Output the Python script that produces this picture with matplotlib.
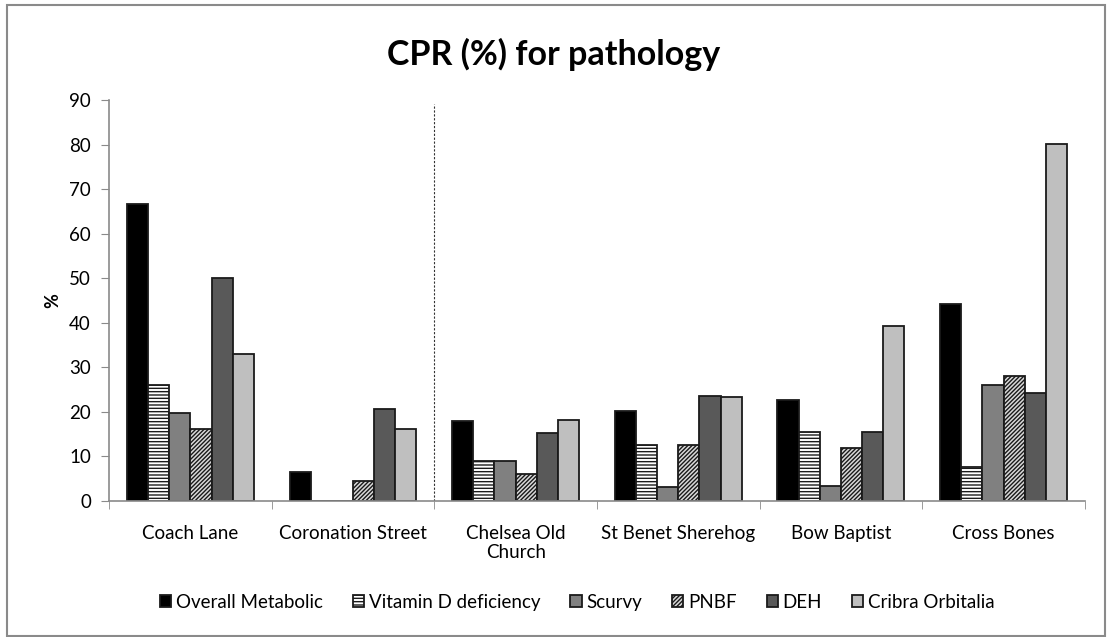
import matplotlib
matplotlib.use("Agg")
import matplotlib.pyplot as plt
import numpy as np
from matplotlib.patches import Rectangle

sites = ["Coach Lane", "Coronation Street", "Chelsea Old\nChurch",
         "St Benet Sherehog", "Bow Baptist", "Cross Bones"]
series_names = ["Overall Metabolic", "Vitamin D deficiency", "Scurvy",
                "PNBF", "DEH", "Cribra Orbitalia"]
overall_metabolic = [66.7, 6.5, 18.0, 20.2, 22.7, 44.2]
vitamin_d = [26.0, 0.0, 9.0, 12.5, 15.4, 7.7]
scurvy = [19.7, 0.0, 9.0, 3.1, 3.4, 26.0]
pnbf = [16.2, 4.5, 6.1, 12.5, 11.9, 28.0]
deh = [50.0, 20.6, 15.2, 23.5, 15.4, 24.2]
cribra = [33.0, 16.2, 18.2, 23.3, 39.2, 80.1]
y_ticks = [0, 10, 20, 30, 40, 50, 60, 70, 80, 90]

plt.rcParams["font.family"] = ["Lato", "DejaVu Sans"]
plt.rcParams["hatch.linewidth"] = 1.0

fig = plt.figure(figsize=(11.07, 6.37), dpi=100)
ax = fig.add_axes([0.0985, 0.2135, 0.8815, 0.6295])

# outer chart frame
fig.patches.append(Rectangle((7 / 1107, 1 / 637), 1098 / 1107, 631 / 637,
                             transform=fig.transFigure, fill=False,
                             edgecolor="#8a8a8a", linewidth=1.5))

styles = [
    dict(color="#000000", hatch=None),
    dict(color="#ffffff", hatch="-----"),
    dict(color="#808080", hatch=None),
    dict(color="#d9d9d9", hatch="////////"),
    dict(color="#595959", hatch=None),
    dict(color="#bfbfbf", hatch=None),
]
values = [overall_metabolic, vitamin_d, scurvy, pnbf, deh, cribra]

x = np.arange(len(sites))
width = 0.13
for i, (vals, st, name) in enumerate(zip(values, styles, series_names)):
    offs = x + (i - 2.5) * width
    ax.bar(offs, vals, width, color=st["color"], edgecolor="#1a1a1a",
           linewidth=1.3, hatch=st["hatch"], label=name)

ax.set_xlim(-0.5, len(sites) - 0.5)
ax.set_ylim(0, 90)
ax.set_yticks(y_ticks)
ax.set_xticks(x)
ax.set_xticklabels(sites, fontsize=13.5, linespacing=1.15)
ax.set_xticks(np.arange(-0.5, len(sites)), minor=True)
ax.tick_params(axis="x", which="major", length=0, pad=17)
ax.tick_params(axis="x", which="minor", length=6, color="#8a8a8a")
ax.tick_params(axis="y", labelsize=13.5, length=6, color="#8a8a8a", pad=7)

for side in ["top", "right"]:
    ax.spines[side].set_visible(False)
for side in ["left", "bottom"]:
    ax.spines[side].set_color("#8a8a8a")
    ax.spines[side].set_linewidth(1.2)

# divider between groups
ax.axvline(1.5, ymin=0, ymax=0.99, color="#333333", linestyle=(0, (2, 1.5)),
           linewidth=0.8)

ax.set_ylabel("%", fontsize=13, fontweight="bold", labelpad=6)
fig.suptitle("CPR (%) for pathology", fontsize=24.5, fontweight="bold",
             y=0.94)

ax.legend(loc="center", bbox_to_anchor=(0.48, -0.253), ncol=6,
          frameon=False, fontsize=13.5, handlelength=0.6, handleheight=0.6,
          handletextpad=0.25, columnspacing=1.6)

fig.savefig("out.png", dpi=100, facecolor="white")
plt.close(fig)
